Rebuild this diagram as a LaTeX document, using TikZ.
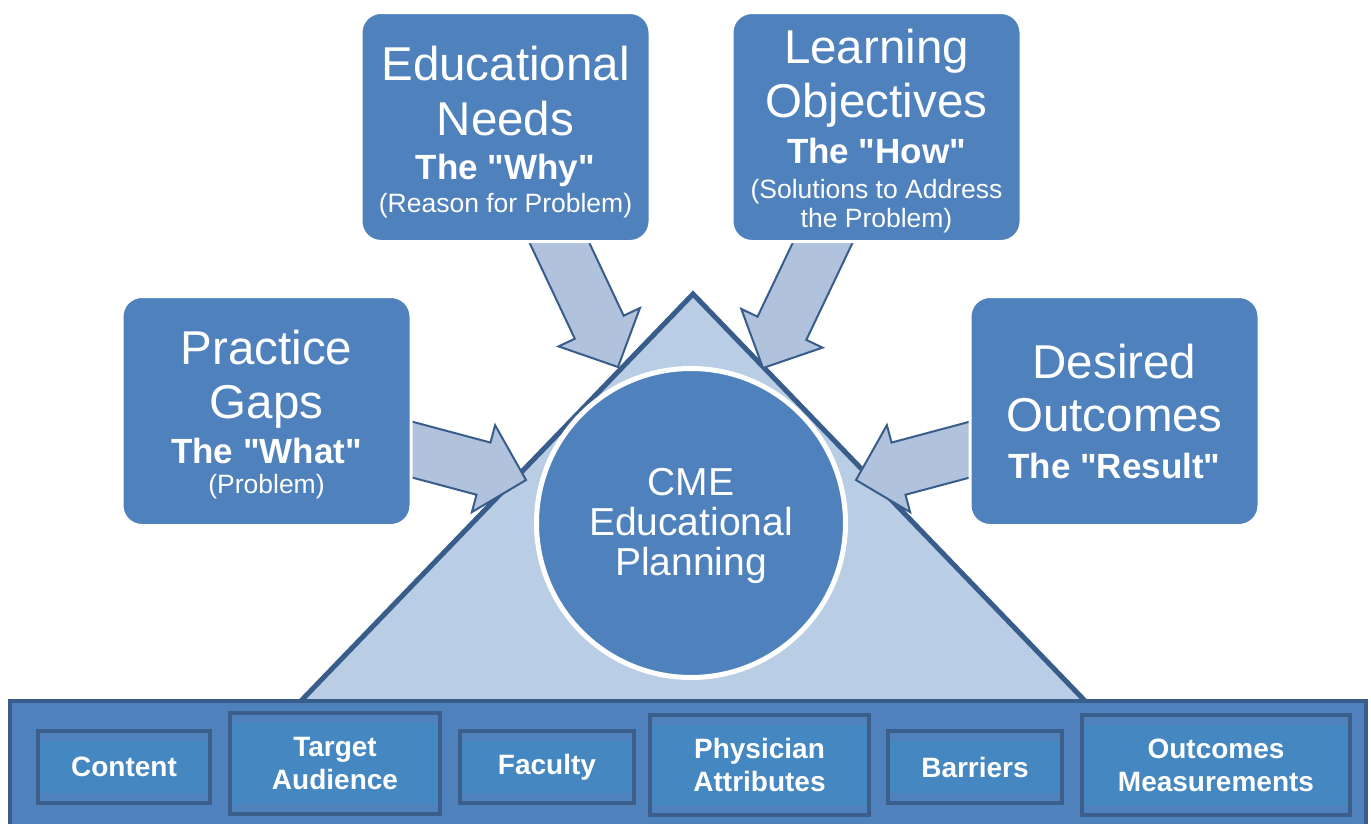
\documentclass[tikz,border=0pt]{standalone}
\usepackage{fontspec}
\setmainfont{Liberation Sans}[Ligatures=TeXOff]
\usetikzlibrary{calc}
\definecolor{mainblue}{HTML}{4F81BD}
\definecolor{darkline}{HTML}{385D8A}
\definecolor{trifill}{HTML}{B9CDE5}
\definecolor{arrfill}{HTML}{B1C2DD}
\definecolor{bandblue}{HTML}{4587C0}
\definecolor{iboxline}{HTML}{3B5E8B}
\newcommand\fBig{\fontsize{47.5}{55}\selectfont}
\newcommand\fBold{\bfseries\fontsize{35}{40}\selectfont}
\newcommand\fSmall{\fontsize{26.5}{30}\selectfont}
\newcommand\fHub{\fontsize{39}{40}\selectfont}
\newcommand\fBase{\bfseries\fontsize{28}{33}\selectfont}
\newcommand\blockarr[2]{%
  \path ($(#2)!44pt!(#1)$) coordinate (neck);
  \draw[arrshape] ($(#1)!27pt!90:(#2)$) -- ($(neck)!27pt!90:(#2)$) -- ($(neck)!45pt!90:(#2)$) -- (#2) -- ($(neck)!45pt!-90:(#2)$) -- ($(neck)!27pt!-90:(#2)$) -- ($(#1)!27pt!-90:(#2)$) -- cycle;}
\begin{document}
\begin{tikzpicture}[x=1pt,y=-1pt,
  every node/.style={text=white, inner sep=0pt},
  line/.style={anchor=base},
  topbox/.style={rounded corners=20pt, fill=mainblue, draw=white, line width=3pt},
  arrshape/.style={fill=arrfill, draw=darkline, line width=2pt, line join=miter},
  tri/.style={fill=trifill, draw=darkline, line width=5pt, line join=miter},
  hub/.style={circle, fill=mainblue, draw=white, line width=5pt, minimum size=309pt},
  basebar/.style={fill=mainblue, draw=darkline, line width=4pt},
  ibox/.style={draw=iboxline, line width=4pt, fill=mainblue, align=center, font=\fBase,
    path picture={\fill[bandblue] ($(path picture bounding box.south west)+(2,-10)$) rectangle ($(path picture bounding box.north east)+(-2,10)$);}}
]
\useasboundingbox (0,0) rectangle (1371,823);
\clip (0,0) rectangle (1371,823);

% pyramid
\draw[tri] (298,704) -- (693,294) -- (1088,704) -- cycle;

% arrow end points
\coordinate (pgT) at (380,441);   \coordinate (pgH) at (526,480);
\coordinate (enT) at (548.7,220); \coordinate (enH) at (618,367);
\coordinate (loT) at (833.5,220); \coordinate (loH) at (763,368);
\coordinate (doT) at (1002,441);  \coordinate (doH) at (856,480);
\blockarr{pgT}{pgH}
\blockarr{enT}{enH}
\blockarr{loT}{loH}
\blockarr{doT}{doH}

% top boxes
\node[topbox, minimum width=289pt, minimum height=229pt] (pg) at (266.5,411) {};
\node[topbox, minimum width=289pt, minimum height=229pt] (en) at (505.5,127) {};
\node[topbox, minimum width=289pt, minimum height=229pt] (lo) at (876.5,127) {};
\node[topbox, minimum width=289pt, minimum height=229pt] (do) at (1114.5,411) {};

\node[line] (pg1) at (266.5,364) {\fBig Practice};
\node[line] (pg2) at (266.5,418) {\fBig Gaps};
\node[line] (pg3) at (266.5,463) {\fBold The "What"};
\node[line] (pg4) at (266.5,493) {\fSmall (Problem)};

\node[line] (en1) at (505.5,80) {\fBig Educational};
\node[line] (en2) at (505.5,135) {\fBig Needs};
\node[line] (en3) at (505.5,179) {\fBold The "Why"};
\node[line] (en4) at (505.5,212) {\fSmall (Reason for Problem)};

\node[line] (lo1) at (876.5,63) {\fBig Learning};
\node[line] (lo2) at (876.5,117) {\fBig Objectives};
\node[line] (lo3) at (876.5,163) {\fBold The "How"};
\node[line] (lo4) at (876.5,198) {\fSmall (Solutions to Address};
\node[line] (lo5) at (876.5,227) {\fSmall the Problem)};

\node[line] (do1) at (1114.5,378) {\fBig Desired};
\node[line] (do2) at (1114.5,431) {\fBig Outcomes};
\node[line] (do3) at (1114.5,478) {\fBold The "Result"};

% hub
\node[hub] (cme) at (691,523) {};
\node[line] (cme1) at (691,495) {\fHub CME};
\node[line] (cme2) at (691,535) {\fHub Educational};
\node[line] (cme3) at (691,575) {\fHub Planning};

% base bar
\draw[basebar] (10,701) rectangle (1366,840);
\node[ibox, minimum width=172pt, minimum height=72pt] (content) at (124,767) {Content};
\node[ibox, minimum width=210pt, minimum height=101pt] (target) at (335,763.5) {Target\\Audience};
\node[ibox, minimum width=174pt, minimum height=72pt] (faculty) at (547,767) {Faculty};
\node[ibox, minimum width=219pt, minimum height=100pt] (phys) at (759.5,765) {Physician\\Attributes};
\node[ibox, minimum width=174pt, minimum height=72pt] (barriers) at (975,767) {Barriers};
\node[ibox, minimum width=268pt, minimum height=100pt] (outcomes) at (1216,765) {Outcomes\\Measurements};
\end{tikzpicture}
\end{document}
